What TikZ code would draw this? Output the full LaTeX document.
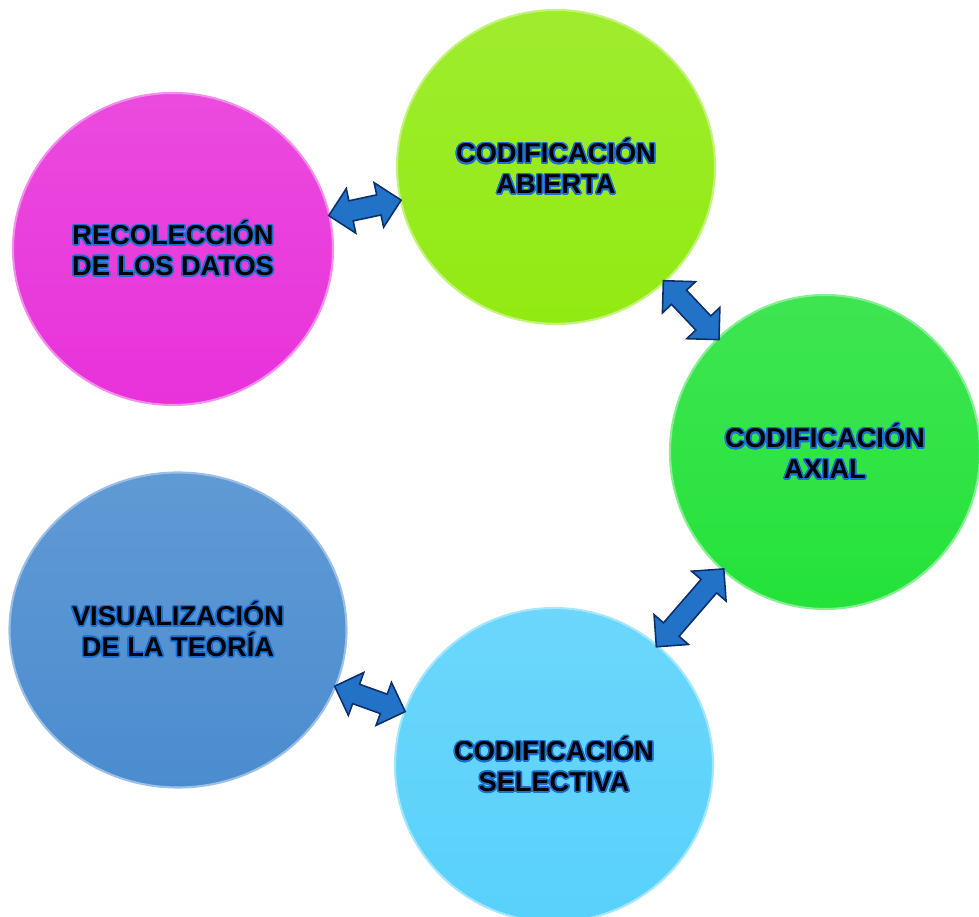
\documentclass[tikz,border=0pt]{standalone}
\usepackage{fontspec}
\setmainfont{Liberation Sans}
\usepackage{contour}
\usetikzlibrary{shapes.geometric,shapes.arrows}

\definecolor{magenta1}{HTML}{E832DA}
\definecolor{lima}{HTML}{92EA12}
\definecolor{verde}{HTML}{24E23A}
\definecolor{celeste}{HTML}{58D1FB}
\definecolor{acero}{HTML}{4B8CCF}
\definecolor{borde}{HTML}{1A6FD0}
\definecolor{flechaazul}{HTML}{2273C8}
\definecolor{flechaborde}{HTML}{0C2F6C}
\contourlength{0.9pt}

\begin{document}
\begin{tikzpicture}[
   every node/.style={font=\bfseries\fontsize{15.5}{17.5}\selectfont, align=center},
   fase/.style={ellipse, inner sep=0pt, line width=1.2pt,
                draw=#1!55!white, top color=#1!88!white, bottom color=#1},
   flecha/.style={double arrow, sloped, fill=flechaazul, draw=flechaborde,
                  line width=0.9pt, inner xsep=0pt, inner ysep=0.19cm,
                  text height=0pt, text depth=0pt, minimum width=0pt,
                  double arrow head extend=0.25cm}]

\useasboundingbox (0,0) rectangle (19.58,18.34);

% fases del proceso
\node[fase=magenta1, minimum width=6.4cm, minimum height=6.24cm] (reco) at (3.46,13.36)
    {\contour{borde}{RECOLECCIÓN}\\\contour{borde}{DE LOS DATOS}};
\node[fase=lima, minimum width=6.36cm, minimum height=6.28cm] (abierta) at (11.12,15.0)
    {\contour{borde}{CODIFICACIÓN}\\\contour{borde}{ABIERTA}};
\node[fase=verde, minimum width=6.2cm, minimum height=6.28cm] (axial) at (16.5,9.3)
    {\contour{borde}{CODIFICACIÓN}\\\contour{borde}{AXIAL}};
\node[fase=celeste, minimum width=6.36cm, minimum height=6.28cm] (selectiva) at (11.08,3.04)
    {\contour{borde}{CODIFICACIÓN}\\\contour{borde}{SELECTIVA}};
\node[fase=acero, minimum width=6.74cm, minimum height=6.3cm] (visual) at (3.56,5.74)
    {\contour{borde}{VISUALIZACIÓN}\\\contour{borde}{DE LA TEORÍA}};

% flechas dobles
\path (reco) -- node[flecha, minimum height=1.48cm] (f1) {} (abierta);
\path (abierta) -- node[flecha, minimum height=1.62cm] (f2) {} (axial);
\path (axial) -- node[flecha, minimum height=2.06cm] (f3) {} (selectiva);
\path (visual) -- node[flecha, minimum height=1.5cm] (f4) {} (selectiva);

\end{tikzpicture}
\end{document}
